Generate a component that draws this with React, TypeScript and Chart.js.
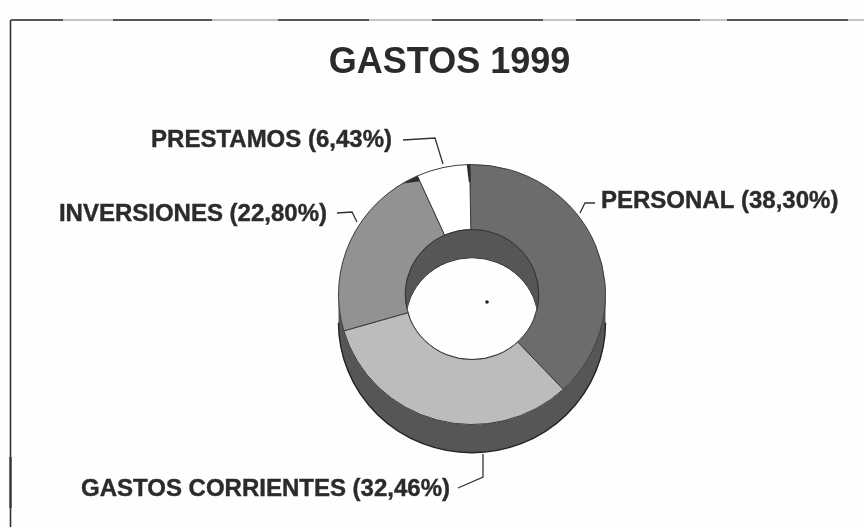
import React, { useEffect, useRef } from "react";
import { Chart, registerables } from "chart.js";

Chart.register(...registerables);

const categories = ["PERSONAL", "GASTOS CORRIENTES", "INVERSIONES", "PRESTAMOS"];
const values = [38.3, 32.46, 22.8, 6.43];
const sliceColors = ["#6c6c6c", "#bcbcbc", "#929292", "#ffffff"];
const chartTitle = "GASTOS 1999";

const INK = "#2b2b2b";
const PAPER = "#fefefe";
const DEPTH = 29;
const SQUASH = 0.974;
const WALL = "#565656";

const fmt = (v: number) => v.toFixed(2).replace(".", ",");
const labelText = categories.map((c, i) => `${c} (${fmt(values[i])}%)`);

// label placement: anchor x, centre y, text alignment, leader polyline
const labelLayout: { x: number; y: number; align: CanvasTextAlign; leader: number[][] }[] = [
  { x: 601, y: 201, align: "left", leader: [[595, 203], [585, 203], [580, 213]] },
  { x: 450, y: 489, align: "right", leader: [[458, 488], [483, 477], [483, 454]] },
  { x: 327, y: 214, align: "right", leader: [[337, 213], [352, 212], [357, 222]] },
  { x: 392, y: 140, align: "right", leader: [[403, 140], [435, 138], [443, 164]] },
];

const frameDark: number[][] = [[11, 63], [113, 212], [278, 369], [432, 543], [576, 700], [727, 848]];

const arcProps = (a: any) =>
  a.getProps(["x", "y", "startAngle", "endAngle", "innerRadius", "outerRadius"], true);

const squash = (ctx: CanvasRenderingContext2D, y: number) => {
  ctx.translate(0, y);
  ctx.scale(1, SQUASH);
  ctx.translate(0, -y);
};

const decor = {
  id: "decor",
  afterLayout(chart: any) {
    // the title sits left of the ring's centre in the original
    chart.titleBlock.left = 0;
    chart.titleBlock.right = 899;
  },
  beforeDraw(chart: any) {
    const { ctx, width, height } = chart;
    ctx.save();
    ctx.fillStyle = PAPER;
    ctx.fillRect(0, 0, width, height);
    ctx.strokeStyle = "#8a8a8a";
    ctx.lineWidth = 1;
    ctx.beginPath();
    ctx.moveTo(10.5, 20);
    ctx.lineTo(864, 20);
    ctx.stroke();
    ctx.strokeStyle = "#333";
    ctx.lineWidth = 1.6;
    frameDark.forEach(([a, b]) => {
      ctx.beginPath();
      ctx.moveTo(a, 20);
      ctx.lineTo(b, 20);
      ctx.stroke();
    });
    ctx.beginPath();
    ctx.moveTo(10.5, 20);
    ctx.lineTo(10.5, 527);
    ctx.stroke();
    ctx.lineWidth = 2.2;
    ctx.beginPath();
    ctx.moveTo(10.5, 457);
    ctx.lineTo(10.5, 508);
    ctx.stroke();
    ctx.restore();
  },
  beforeDatasetsDraw(chart: any) {
    const { ctx } = chart;
    const arcs = chart.getDatasetMeta(0).data;
    const first = arcProps(arcs[0]);
    ctx.save();
    squash(ctx, first.y);
    arcs.forEach((el: any) => {
      const a = arcProps(el);
      const s = Math.max(a.startAngle - 0.02, 0);
      const e = Math.min(a.endAngle + 0.02, Math.PI);
      if (e <= s) return;
      ctx.beginPath();
      ctx.arc(a.x, a.y + DEPTH, a.outerRadius, s, e);
      ctx.arc(a.x, a.y, a.outerRadius, e, s, true);
      ctx.closePath();
      ctx.fillStyle = WALL;
      ctx.fill();
    });
    ctx.beginPath();
    ctx.arc(first.x, first.y + DEPTH, first.outerRadius, 0, Math.PI);
    ctx.strokeStyle = "#222";
    ctx.lineWidth = 1.4;
    ctx.stroke();
    ctx.restore();
    // everything the library draws next shares the same vertical squash
    ctx.save();
    squash(ctx, first.y);
  },
  afterDatasetsDraw(chart: any) {
    const { ctx } = chart;
    const arcs = chart.getDatasetMeta(0).data;
    const first = arcProps(arcs[0]);
    const { x, y, innerRadius: ri, outerRadius: ro } = first;

    // dark slivers at the ends of the last two slices
    const last = arcProps(arcs[3]);
    const inv = arcProps(arcs[2]);
    ctx.fillStyle = "#2c2c2c";
    ctx.beginPath();
    ctx.arc(x, y, ro, last.endAngle - 0.022, last.endAngle + 0.004);
    ctx.arc(x, y, ro - 18, last.endAngle + 0.004, last.endAngle - 0.01, true);
    ctx.closePath();
    ctx.fill();
    ctx.beginPath();
    ctx.arc(x, y, ro - 0.5, inv.endAngle - 0.12, inv.endAngle);
    ctx.lineTo(
      x + Math.cos(inv.endAngle) * (ro - 6),
      y + Math.sin(inv.endAngle) * (ro - 6)
    );
    ctx.closePath();
    ctx.fill();

    // inner wall of the hole, then the see-through part
    ctx.beginPath();
    ctx.arc(x, y, ri, 0, Math.PI * 2);
    ctx.fillStyle = WALL;
    ctx.fill();
    ctx.save();
    ctx.beginPath();
    ctx.arc(x, y, ri, 0, Math.PI * 2);
    ctx.clip();
    ctx.beginPath();
    ctx.arc(x, y + DEPTH, ri, 0, Math.PI * 2);
    ctx.fillStyle = PAPER;
    ctx.fill();
    ctx.strokeStyle = "#333";
    ctx.lineWidth = 1;
    ctx.stroke();
    ctx.restore();
    ctx.beginPath();
    ctx.arc(x, y, ri, 0, Math.PI * 2);
    ctx.strokeStyle = "#333";
    ctx.lineWidth = 1;
    ctx.stroke();
    ctx.restore(); // ends the squash opened before the datasets

    // centre mark
    ctx.beginPath();
    ctx.arc(x + 15, y + 7.5, 1.8, 0, Math.PI * 2);
    ctx.fillStyle = "#222";
    ctx.fill();

    // labels and leaders
    ctx.save();
    ctx.font = 'bold 24px "Liberation Sans", Arial, sans-serif';
    ctx.textBaseline = "middle";
    labelLayout.forEach((l, i) => {
      ctx.fillStyle = INK;
      ctx.strokeStyle = INK;
      ctx.lineWidth = 0.4;
      ctx.textAlign = l.align;
      ctx.fillText(labelText[i], l.x, l.y);
      ctx.strokeText(labelText[i], l.x, l.y);
      ctx.beginPath();
      l.leader.forEach(([px, py], k) => (k ? ctx.lineTo(px, py) : ctx.moveTo(px, py)));
      ctx.strokeStyle = "#333";
      ctx.lineWidth = 1.3;
      ctx.stroke();
    });
    ctx.restore();
  },
};

export default function App() {
  const ref = useRef<HTMLCanvasElement>(null);
  useEffect(() => {
    const chart = new Chart(ref.current!, {
      type: "doughnut",
      data: {
        labels: categories,
        datasets: [
          {
            data: values,
            backgroundColor: sliceColors,
            borderColor: "#3a3a3a",
            borderWidth: 1,
          },
        ],
      },
      options: {
        responsive: false,
        animation: false,
        rotation: -1,
        cutout: "50%",
        layout: { padding: { left: 338, right: 258, top: 0, bottom: 98.5 } },
        plugins: {
          legend: { display: false },
          tooltip: { enabled: false },
          title: {
            display: true,
            text: chartTitle,
            color: INK,
            font: { family: '"Liberation Sans", Arial, sans-serif', size: 36, weight: "bold", lineHeight: 1.2 },
            padding: { top: 41, bottom: 76.3 },
          },
        },
      },
      plugins: [decor],
    } as any);
    return () => chart.destroy();
  }, []);
  return (
    <canvas
      ref={ref}
      width={864}
      height={527}
      style={{ display: "block", position: "absolute", left: 0, top: 0 }}
    />
  );
}
